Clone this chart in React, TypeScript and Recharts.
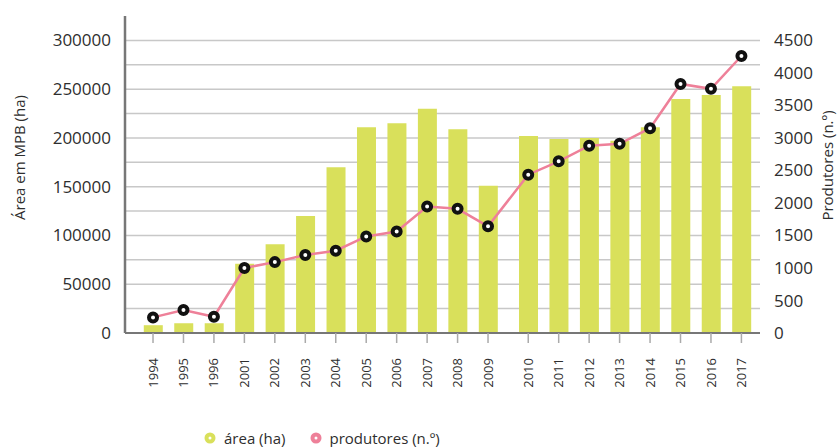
import {
  ComposedChart,
  Bar,
  Line,
  XAxis,
  YAxis,
  CartesianGrid,
  Legend,
  Label,
} from "recharts";

const years = [
  "1994", "1995", "1996", "2001", "2002", "2003", "2004", "2005", "2006", "2007",
  "2008", "2009", "2010", "2011", "2012", "2013", "2014", "2015", "2016", "2017",
];

// área em MPB (ha)
const area = [
  8000, 10000, 10000, 71000, 91000, 120000, 170000, 211000, 215000, 230000,
  209000, 151000, 202000, 199000, 200000, 197000, 211000, 240000, 244000, 253000,
];

// produtores (n.º)
const producers = [
  240, 355, 250, 1000, 1090, 1200, 1265, 1485, 1560, 1945,
  1910, 1640, 2435, 2640, 2880, 2910, 3150, 3830, 3755, 4260,
];

const areaTicks = [0, 50000, 100000, 150000, 200000, 250000, 300000];
const producerTicks = [0, 500, 1000, 1500, 2000, 2500, 3000, 3500, 4000, 4500];
const gridValues = [
  25000, 50000, 75000, 100000, 125000, 150000, 175000, 200000, 225000, 250000,
  275000, 300000,
];

const AREA_COLOR = "#d9e05b";
const PROD_COLOR = "#ee8099";
const TEXT_COLOR = "#2e2e2e";
const FONT = "'Open Sans', sans-serif";

// the 2010–2017 block sits a little apart from the earlier years
const SERIES_BREAK = 12;
const BREAK_GAP = 0.32;

const data = years.map((year, i) => ({
  year,
  pos: i + (i >= SERIES_BREAK ? BREAK_GAP : 0),
  area: area[i],
  producers: producers[i],
}));

const xTicks = data.map((d) => d.pos);
const yearAt = (pos: number) => data.find((d) => d.pos === pos)?.year ?? "";

const YearTick = ({ x, y, payload }: any) => (
  <text
    x={x}
    y={y}
    dy="0.35em"
    textAnchor="end"
    transform={`rotate(-90, ${x}, ${y})`}
    fill={TEXT_COLOR}
    fontSize={13}
    fontFamily={FONT}
  >
    {yearAt(payload.value)}
  </text>
);

const ProducerDot = ({ cx, cy }: any) => (
  <circle cx={cx} cy={cy} r={4} fill="#fff" stroke="#111" strokeWidth={4} />
);

const LegendMarker = ({ color }: { color: string }) => (
  <svg width={12} height={12} style={{ marginRight: 8 }}>
    <circle cx={6} cy={6} r={5.5} fill={color} />
    <circle cx={6} cy={6} r={1.5} fill="#fff" />
  </svg>
);

const ChartLegend = () => (
  <div
    style={{
      display: "flex",
      alignItems: "center",
      paddingLeft: 204,
      paddingTop: 11,
      fontFamily: FONT,
      fontSize: 15,
      color: TEXT_COLOR,
    }}
  >
    <span style={{ display: "flex", alignItems: "center", marginRight: 24 }}>
      <LegendMarker color={AREA_COLOR} />
      área (ha)
    </span>
    <span style={{ display: "flex", alignItems: "center" }}>
      <LegendMarker color={PROD_COLOR} />
      produtores (n.º)
    </span>
  </div>
);

const AxisTitle = ({ viewBox, title, titleX, shiftY }: any) => {
  const cy = viewBox.y + viewBox.height / 2 + shiftY;
  return (
    <text
      x={titleX}
      y={cy}
      textAnchor="middle"
      dominantBaseline="central"
      transform={`rotate(-90, ${titleX}, ${cy})`}
      fill={TEXT_COLOR}
      fontSize={15}
      fontFamily={FONT}
    >
      {title}
    </text>
  );
};

export default function App() {
  return (
    <div style={{ position: "absolute", left: 0, top: 0, background: "#fff" }}>
      <ComposedChart
        width={838}
        height={447}
        data={data}
        margin={{ top: 16, right: 0, bottom: 0, left: 0 }}
      >
        <CartesianGrid
          yAxisId="area"
          vertical={false}
          horizontalValues={gridValues}
          stroke="#c8c8c8"
          strokeWidth={1.5}
        />
        <XAxis
          dataKey="pos"
          type="number"
          domain={[-0.92, 19.93]}
          ticks={xTicks}
          interval={0}
          allowDataOverflow
          height={84}
          tick={<YearTick />}
          tickSize={10}
          tickMargin={15}
          tickLine={{ stroke: "#aaa", strokeWidth: 1.5 }}
          axisLine={{ stroke: "#777", strokeWidth: 2 }}
        />
        <YAxis
          yAxisId="area"
          orientation="left"
          width={125}
          domain={[0, 325000]}
          ticks={areaTicks}
          interval={0}
          tickSize={0}
          tickMargin={14}
          tickLine={false}
          axisLine={{ stroke: "#777", strokeWidth: 2.5 }}
          tick={{ fill: TEXT_COLOR, fontSize: 17, fontFamily: FONT }}
        >
          <Label
            content={<AxisTitle title="Área em MPB (ha)" titleX={19} shiftY={-17} />}
          />
        </YAxis>
        <YAxis
          yAxisId="producers"
          orientation="right"
          width={78}
          domain={[0, 4875]}
          ticks={producerTicks}
          interval={0}
          tickSize={0}
          tickMargin={14}
          tickLine={false}
          axisLine={false}
          tick={{ fill: TEXT_COLOR, fontSize: 17, fontFamily: FONT, textAnchor: "start" }}
        >
          <Label
            content={<AxisTitle title="Produtores (n.º)" titleX={827} shiftY={-9} />}
          />
        </YAxis>
        <Bar
          yAxisId="area"
          dataKey="area"
          name="área (ha)"
          fill={AREA_COLOR}
          barSize={19}
          isAnimationActive={false}
        />
        <Line
          yAxisId="producers"
          dataKey="producers"
          name="produtores (n.º)"
          stroke={PROD_COLOR}
          strokeWidth={2.5}
          dot={<ProducerDot />}
          activeDot={false}
          isAnimationActive={false}
        />
        <Legend
          verticalAlign="bottom"
          align="left"
          height={30}
          content={<ChartLegend />}
        />
      </ComposedChart>
    </div>
  );
}
